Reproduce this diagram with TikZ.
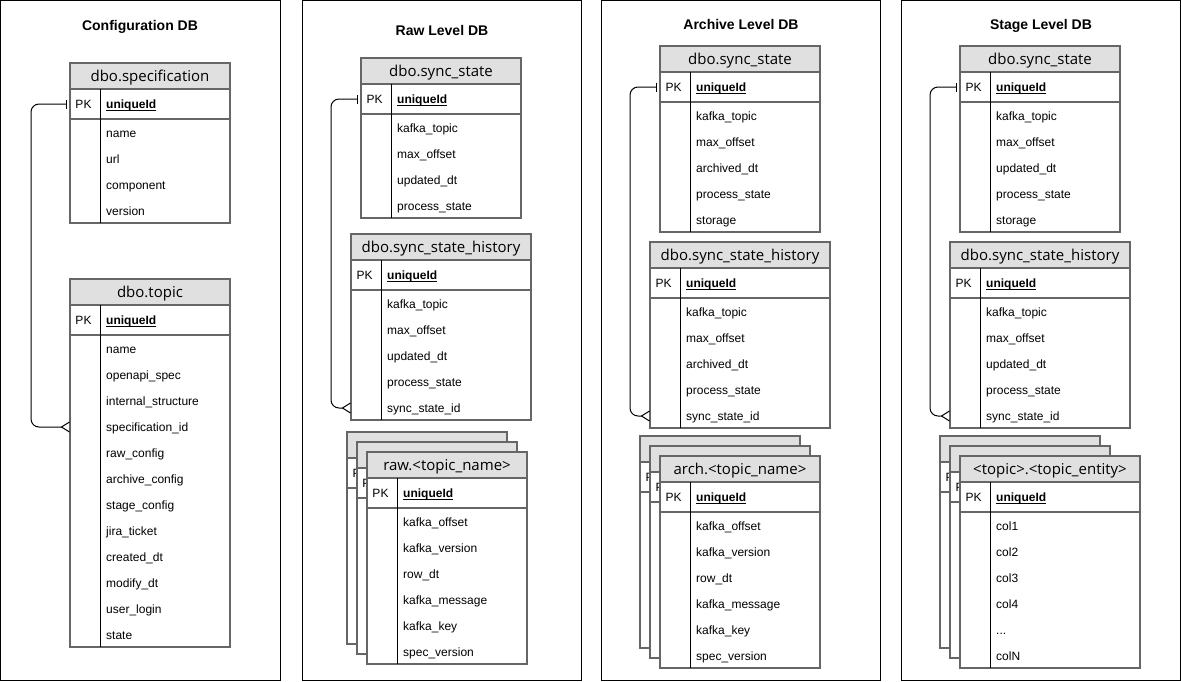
\documentclass[tikz,border=0pt]{standalone}
\usepackage{fontspec}
\setmainfont{Liberation Sans}
\newfontfamily\hdrfont{Open Sans}
\usetikzlibrary{arrows.meta}

\definecolor{hdrgray}{HTML}{E0E0E0}
\definecolor{tabgray}{HTML}{666666}

\tikzset{
  panel/.style={draw=black, line width=0.8pt},
  tabline/.style={draw=tabgray, line width=1.2pt},
  keyline/.style={draw=black, line width=0.8pt},
  dbtitle/.style={font=\fontsize{14}{16}\selectfont\bfseries, anchor=base, inner sep=0pt},
  hdrtext/.style={font=\hdrfont\fontsize{15}{18}\selectfont, inner sep=0pt, text height=10.5pt, text depth=0pt},
  fldtext/.style={font=\fontsize{12}{14}\selectfont, anchor=west, inner sep=0pt, text height=10.9pt, text depth=2.5pt},
  pktext/.style={fldtext, anchor=center},
  pkname/.style={fldtext, font=\fontsize{12}{14}\selectfont\bfseries},
  relline/.style={draw=black, line width=1pt, rounded corners=8pt},
}

\newcommand{\etcfld}{...}

% ER table: name, left, top, width, number of fields, title, fields
\newcommand{\ertable}[7]{%
  \begin{scope}[shift={(#2,#3)}]
    \pgfmathsetmacro{\tabbot}{56+26*#5}
    \draw[tabline, fill=white] (0,0) rectangle (#4,\tabbot);
    \draw[tabline, fill=hdrgray] (0,0) rectangle (#4,26);
    \draw[tabline] (0,56) -- (#4,56);
    \draw[keyline] (30,26) -- (30,\tabbot);
    \node[hdrtext] (#1-h) at (#4/2,13.5) {#6};
    \node[pktext] (#1-pkl) at (13.5,41) {PK};
    \node[pkname] (#1-pkn) at (36,41) {uniqueId};
    \draw[line width=0.8pt] ([yshift=-1.8pt]#1-pkn.base west) -- ([yshift=-1.8pt]#1-pkn.base east);
    \coordinate (#1-pk) at (0,41);
    \foreach \fld [count=\i] in {#7} {
      \node[fldtext] (#1-f\i) at (36,{44+26*\i}) {\fld};
      \coordinate (#1-c\i) at (0,{44+26*\i});
    }
  \end{scope}}

% card behind a stacked table: name, left, top, width, number of fields
\newcommand{\erback}[5]{%
  \begin{scope}[shift={(#2,#3)}]
    \pgfmathsetmacro{\tabbot}{56+26*#5}
    \draw[tabline, fill=white] (0,0) rectangle (#4,\tabbot);
    \draw[tabline, fill=hdrgray] (0,0) rectangle (#4,26);
    \draw[tabline] (0,56) -- (#4,56);
    \draw[keyline] (30,26) -- (30,\tabbot);
    \node[pktext] (#1-pkl) at (13.5,41) {PK};
  \end{scope}}

\begin{document}
\begin{tikzpicture}[x=1pt, y=-1pt]
  \useasboundingbox (0,0) rectangle (1181,681);

  % Panels
  \draw[panel] (0.5,0.5) rectangle (280,680);
  \draw[panel] (302,0.5) rectangle (581,680);
  \draw[panel] (601,0.5) rectangle (880,680);
  \draw[panel] (901,0.5) rectangle (1180,680);

  \node[dbtitle] (cfg-title) at (140,30) {Configuration DB};
  \node[dbtitle] (raw-title) at (442,35) {Raw Level DB};
  \node[dbtitle] (arc-title) at (741,29.5) {Archive Level DB};
  \node[dbtitle] (stg-title) at (1041,29.5) {Stage Level DB};

  % Configuration DB
  \ertable{spec}{70}{63}{160}{4}{dbo.specification}{name, url, component, version}
  \ertable{topic}{70}{279}{160}{12}{dbo.topic}{name, openapi\_spec, internal\_structure, specification\_id, raw\_config, archive\_config, stage\_config, jira\_ticket, created\_dt, modify\_dt, user\_login, state}

  % Raw Level DB
  \ertable{rss}{361}{58}{160}{4}{dbo.sync\_state}{kafka\_topic, max\_offset, updated\_dt, process\_state}
  \ertable{rsh}{351}{234}{180}{5}{dbo.sync\_state\_history}{kafka\_topic, max\_offset, updated\_dt, process\_state, sync\_state\_id}
  \erback{rawb1}{347}{432}{160}{6}
  \erback{rawb2}{357}{442}{160}{6}
  \ertable{rawt}{367}{452}{160}{6}{raw.<topic\_name>}{kafka\_offset, kafka\_version, row\_dt, kafka\_message, kafka\_key, spec\_version}

  % Archive Level DB
  \ertable{ass}{660}{46}{160}{5}{dbo.sync\_state}{kafka\_topic, max\_offset, archived\_dt, process\_state, storage}
  \ertable{ash}{650}{242}{180}{5}{dbo.sync\_state\_history}{kafka\_topic, max\_offset, archived\_dt, process\_state, sync\_state\_id}
  \erback{arcb1}{640}{436}{160}{6}
  \erback{arcb2}{650}{446}{160}{6}
  \ertable{arct}{660}{456}{160}{6}{arch.<topic\_name>}{kafka\_offset, kafka\_version, row\_dt, kafka\_message, kafka\_key, spec\_version}

  % Stage Level DB
  \ertable{sss}{960}{46}{160}{5}{dbo.sync\_state}{kafka\_topic, max\_offset, updated\_dt, process\_state, storage}
  \ertable{ssh}{950}{242}{180}{5}{dbo.sync\_state\_history}{kafka\_topic, max\_offset, updated\_dt, process\_state, sync\_state\_id}
  \erback{stgb1}{940}{436}{160}{6}
  \erback{stgb2}{950}{446}{160}{6}
  \ertable{stgt}{960}{456}{180}{6}{<topic>.<topic\_entity>}{col1, col2, col3, col4, \etcfld, colN}

  % Relations
  \draw[relline, {Bar[width=9pt,sep=3pt]}-{Straight Barb[reversed,length=8pt,width=10pt]}] (spec-pk) -- ++(-39,0) |- (topic-c4);
  \draw[relline, {Bar[width=9pt,sep=3pt]}-{Straight Barb[reversed,length=8pt,width=10pt]}] (rss-pk) -- ++(-30,0) |- (rsh-c5);
  \draw[relline, {Bar[width=9pt,sep=3pt]}-{Straight Barb[reversed,length=8pt,width=10pt]}] (ass-pk) -- ++(-30,0) |- (ash-c5);
  \draw[relline, {Bar[width=9pt,sep=3pt]}-{Straight Barb[reversed,length=8pt,width=10pt]}] (sss-pk) -- ++(-30,0) |- (ssh-c5);
\end{tikzpicture}
\end{document}
